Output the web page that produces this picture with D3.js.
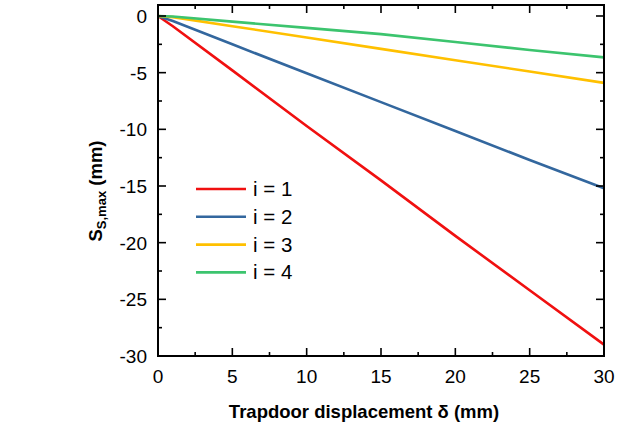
<!DOCTYPE html>
<html><head><meta charset="utf-8">
<script src="https://cdn.jsdelivr.net/npm/d3@7"></script>
<style>body{margin:0;background:#fff}svg{display:block}text{font-family:"Liberation Sans",Arial,sans-serif}</style>
</head><body>
<svg id="c" width="624" height="428"></svg>
<script>
const xs = [0, 1, 5, 10, 15, 20, 25, 30];
const s1 = [0, -0.9, -4.8, -9.7, -14.5, -19.4, -24.2, -29.0];
const s2 = [0, -0.45, -2.5, -5.05, -7.6, -10.15, -12.7, -15.2];
const s3 = [0, -0.1, -0.9, -1.9, -2.9, -3.9, -4.9, -5.9];
const s4 = [0, -0.05, -0.5, -1.05, -1.6, -2.3, -3.0, -3.65];
const seriesNames = ["i = 1", "i = 2", "i = 3", "i = 4"];
const colors = ["#f01010", "#33679e", "#ffc000", "#3cc46e"];
const xTicks = [0, 5, 10, 15, 20, 25, 30];
const yTicks = [0, -5, -10, -15, -20, -25, -30];

const svg = d3.select("#c");
const L = 158, R = 604, T = 5, B = 356;
const x = d3.scaleLinear().domain([0, 30]).range([L, R]);
const y = d3.scaleLinear().domain([-30, 0.97]).range([B, T]);
const xMinor = d3.range(0, 30.1, 2.5);
const yMinor = d3.range(-30, 0.1, 2.5);

const g = svg.append("g");
const line = d3.line().x(d => x(d[0])).y(d => y(d[1]));
[s1, s2, s3, s4].forEach((s, i) => {
  g.append("path").datum(xs.map((v, k) => [v, s[k]]))
    .attr("d", line).attr("fill", "none").attr("stroke", colors[i]).attr("stroke-width", 2.6);
});

function tickLen(v, major) { return major.includes(v) ? 8 : 4; }
const tk = svg.append("g").attr("stroke", "#000").attr("stroke-width", 1.6);
xMinor.forEach(v => {
  const l = tickLen(v, xTicks);
  tk.append("line").attr("x1", x(v)).attr("x2", x(v)).attr("y1", B).attr("y2", B - l);
  tk.append("line").attr("x1", x(v)).attr("x2", x(v)).attr("y1", T).attr("y2", T + l);
});
yMinor.forEach(v => {
  const l = tickLen(v, yTicks);
  tk.append("line").attr("x1", L).attr("x2", L + l).attr("y1", y(v)).attr("y2", y(v));
  tk.append("line").attr("x1", R).attr("x2", R - l).attr("y1", y(v)).attr("y2", y(v));
});
svg.append("rect").attr("x", L).attr("y", T).attr("width", R - L).attr("height", B - T)
  .attr("fill", "none").attr("stroke", "#000").attr("stroke-width", 2);

xTicks.forEach(v => svg.append("text").attr("x", x(v)).attr("y", 382.5).attr("text-anchor", "middle")
  .attr("font-size", 19).text(v));
yTicks.forEach(v => svg.append("text").attr("x", 147).attr("y", y(v) + 7).attr("text-anchor", "end")
  .attr("font-size", 19).text(v));

svg.append("text").attr("x", (L + R) / 2 - 17).attr("y", 418).attr("text-anchor", "middle")
  .attr("font-size", 18.5).attr("font-weight", "bold").text("Trapdoor displacement δ (mm)");
const yt = svg.append("text").attr("transform", "translate(102," + 191 + ") rotate(-90)")
  .attr("text-anchor", "middle").attr("font-size", 18.5).attr("font-weight", "bold");
yt.append("tspan").text("S");
yt.append("tspan").attr("font-size", 13).attr("dy", 4).text("S,max");
yt.append("tspan").attr("dy", -4).text(" (mm)");

seriesNames.forEach((n, i) => {
  const yy = 189 + i * 27.8;
  svg.append("line").attr("x1", 196).attr("x2", 246).attr("y1", yy).attr("y2", yy)
    .attr("stroke", colors[i]).attr("stroke-width", 2.6);
  svg.append("text").attr("x", 253).attr("y", yy + 7).attr("font-size", 20.5).text(n);
});
</script>
</body></html>
